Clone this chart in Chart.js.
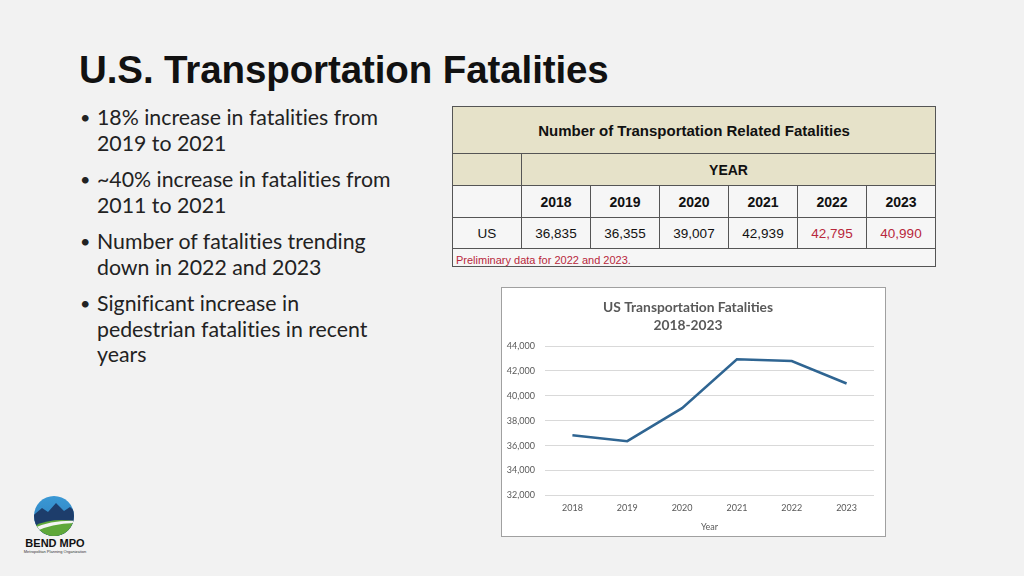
<!DOCTYPE html>
<html>
<head>
<meta charset="utf-8">
<script src="https://cdn.jsdelivr.net/npm/chart.js@4/dist/chart.umd.min.js"></script>
<style>
body{margin:0;width:1024px;height:576px;background:#f2f2f2;position:relative;overflow:hidden;font-family:"Liberation Sans",Arial,sans-serif;}
h1{position:absolute;left:79px;top:48px;margin:0;font-size:38.5px;font-weight:bold;color:#111;letter-spacing:-0.1px;}
ul.bul{position:absolute;left:80px;top:105px;margin:0;padding:0;list-style:none;font-family:Lato,sans-serif;font-size:21.3px;line-height:25.5px;color:#222;width:340px;font-variant-ligatures:none}
ul.bul li{position:relative;padding-left:17px;margin-bottom:11px}
ul.bul li:before{content:"\2022";position:absolute;left:0;top:0;font-size:18px}
#tbl{position:absolute;left:452px;top:106px;border-collapse:collapse;border:1.5px solid #555;font-size:13.5px;color:#111}
#tbl td{border:1px solid #555;text-align:center;padding:0}
#tbl .tan{background:#e6e2c9}
#tbl .wh{background:#f6f6f6}
#tbl .b{font-weight:bold;font-size:14px}
#tbl .red{color:#b8283c}
#tbl td.note{text-align:left;color:#b8283c;font-size:11px;padding-left:3px;background:#f6f6f6;vertical-align:bottom}
#chartBox{position:absolute;left:501px;top:287px;width:383px;height:248px;background:#fff;border:1px solid #a0a0a0}
#logo{position:absolute;left:20px;top:492px;width:70px;height:64px}
</style>
</head>
<body>
<h1>U.S. Transportation Fatalities</h1>
<ul class="bul">
  <li>18% increase in fatalities from<br>2019 to 2021</li>
  <li>~40% increase in fatalities from<br>2011 to 2021</li>
  <li>Number of fatalities trending<br>down in 2022 and 2023</li>
  <li>Significant increase in<br>pedestrian fatalities in recent<br>years</li>
</ul>

<table id="tbl">
  <colgroup><col style="width:69px"><col style="width:69px"><col style="width:69px"><col style="width:69px"><col style="width:69px"><col style="width:69px"><col style="width:69px"></colgroup>
  <tr style="height:47px"><td class="tan b" colspan="7" style="font-size:15px">Number of Transportation Related Fatalities</td></tr>
  <tr style="height:32px"><td class="tan"></td><td class="tan b" colspan="6" style="font-size:14px">YEAR</td></tr>
  <tr style="height:32px" id="yearRow"><td class="wh"></td></tr>
  <tr style="height:31px" id="valRow"><td class="wh">US</td></tr>
  <tr style="height:18px"><td class="note" colspan="7">Preliminary data for 2022 and 2023.</td></tr>
</table>

<div id="chartBox"><canvas id="myChart" width="383" height="248"></canvas></div>

<svg id="logo" viewBox="0 0 70 64">
  <defs>
    <clipPath id="c"><circle cx="34" cy="24" r="20"/></clipPath>
    <linearGradient id="sky" x1="0" y1="0" x2="0" y2="1"><stop offset="0" stop-color="#3b9ad6"/><stop offset="1" stop-color="#2a78b8"/></linearGradient>
  </defs>
  <g clip-path="url(#c)">
    <rect x="10" y="2" width="50" height="46" fill="url(#sky)"/>
    <path d="M10 26 L22 16 L28 20 L36 11 L44 19 L50 15 L60 24 L60 48 L10 48 Z" fill="#1d3d6b"/>
    <path d="M10 36 Q32 24 60 30 L60 48 L10 48 Z" fill="#5fa83a"/>
    <path d="M10 38 Q30 27 60 29 L60 31 Q32 30 10 42 Z" fill="#f4f4f4"/>
  </g>
  <text x="35" y="55" text-anchor="middle" font-family="Liberation Sans" font-weight="bold" font-size="11" fill="#111">BEND MPO</text>
  <text x="35" y="61" text-anchor="middle" font-family="Liberation Sans" font-size="4" fill="#333">Metropolitan Planning Organization</text>
</svg>

<script>
const years = ['2018', '2019', '2020', '2021', '2022', '2023'];
const fatalities = [36835, 36355, 39007, 42939, 42795, 40990];
const preliminary = [false, false, false, false, true, true];
const yMin = 32000, yMax = 44000, yStep = 2000;

// fill the table from the same arrays
for(let i = 0; i<years.length; i++)
{
  let y = document.createElement('td');
  y.className = 'wh b';
  y.textContent = years[i];
  document.getElementById('yearRow').appendChild(y);

  let v = document.createElement('td');
  v.className = preliminary[i] ? 'wh red' : 'wh';
  v.textContent = fatalities[i].toLocaleString('en-US');
  document.getElementById('valRow').appendChild(v);
}

const grey = '#595959';
const config = {
  type: 'line',
  data: {
    labels: years,
    datasets: [{
      label: 'US',
      data: fatalities,
      borderColor: '#2f6592',
      borderWidth: 2.5,
      pointRadius: 0,
      tension: 0,
      fill: false
    }]
  },
  options: {
    responsive: false,
    animation: false,
    layout: { padding: { left: 0, right: 11, top: 0, bottom: 0 } },
    plugins: {
      legend: { display: false },
      tooltip: { enabled: false },
      title: {
        display: true,
        text: ['US Transportation Fatalities', '2018-2023'],
        color: grey,
        font: { family: 'Lato', size: 13.8, weight: 'bold', lineHeight: 1.32 },
        padding: { top: 10, bottom: 11.6 }
      }
    },
    scales: {
      y: {
        min: yMin,
        max: yMax,
        ticks: {
          stepSize: yStep,
          color: grey,
          padding: 10,
          font: { family: 'Lato', size: 9 },
          callback: function(v) { return v.toLocaleString('en-US'); }
        },
        grid: { color: '#d9d9d9', drawTicks: false },
        border: { display: false },
        afterFit: function(s) { s.width = 43; }
      },
      x: {
        offset: true,
        ticks: { color: grey, padding: 7, font: { family: 'Lato', size: 9 } },
        grid: { display: false, drawTicks: false },
        border: { display: false },
        title: {
          display: true,
          text: 'Year',
          color: grey,
          font: { family: 'Lato', size: 9 },
          padding: { top: 1, bottom: 4 }
        }
      }
    }
  }
};

const myChart = new Chart(document.getElementById('myChart'), config);
</script>
</body>
</html>
